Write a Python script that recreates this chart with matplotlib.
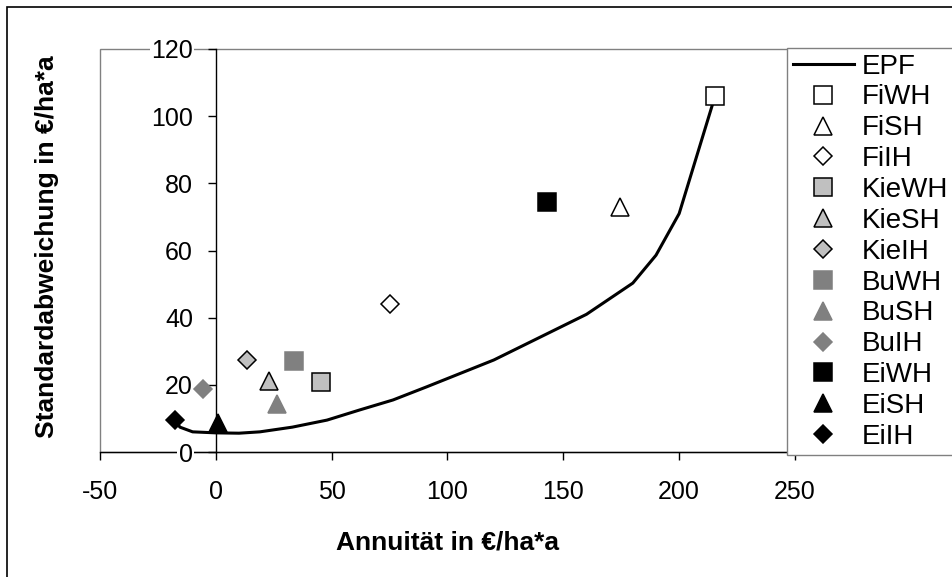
import matplotlib
matplotlib.use('Agg')

import matplotlib.pyplot as plt
from matplotlib.patches import Rectangle

plt.rcParams['font.family'] = ['Liberation Sans', 'DejaVu Sans']
plt.rcParams['axes.unicode_minus'] = False

##########
# EPF (efficient frontier) line
epf_x = [-17.7, -15.5, -10, 0, 10, 19, 33, 48, 62, 76.5, 91, 120, 160, 180, 190, 200, 215.5]
epf_y = [9.5, 7.4, 6.0, 5.7, 5.6, 6.0, 7.4, 9.5, 12.5, 15.5, 19.4, 27.4, 41, 50.3, 58.6, 71, 106]

# single strategies
names = ['FiWH', 'FiSH', 'FiIH', 'KieWH', 'KieSH', 'KieIH',
         'BuWH', 'BuSH', 'BuIH', 'EiWH', 'EiSH', 'EiIH']
annuity = [215.5, 174.5, 75, 45.2, 22.9, 13.4, 33.7, 26.6, -5.7, 143, 1.0, -17.7]
stdev = [106, 73.1, 44, 20.9, 21.1, 27.4, 27.0, 14.3, 18.7, 74.4, 8.5, 9.5]

xticks = [-50, 0, 50, 100, 150, 200, 250]
yticks = [0, 20, 40, 60, 80, 100, 120]

##########
mk = {'s': 13, '^': 13.5, 'D': 9.6}
styles = [
    ('s', 'white', 'black'), ('^', 'white', 'black'), ('D', 'white', 'black'),
    ('s', '#c0c0c0', 'black'), ('^', '#c0c0c0', 'black'), ('D', '#c0c0c0', 'black'),
    ('s', '#808080', '#808080'), ('^', '#808080', '#808080'), ('D', '#808080', '#808080'),
    ('s', 'black', 'black'), ('^', 'black', 'black'), ('D', 'black', 'black'),
]

W, H = 952, 577
fig = plt.figure(figsize=(W / 100, H / 100), dpi=100)
ax = fig.add_axes([100 / W, (H - 452) / H, 695 / W, 403 / H])

ax.plot(epf_x, epf_y, '-', color='black', lw=2.2, label='EPF', zorder=2, clip_on=False)
for i in range(len(names)):
    m, fc, ec = styles[i]
    ax.plot(annuity[i], stdev[i], linestyle='none', marker=m, ms=mk[m],
            markerfacecolor=fc, markeredgecolor=ec, markeredgewidth=1.1,
            label=names[i], zorder=3, clip_on=False)

ax.set_xlim(-50, 250)
ax.set_ylim(0, 120)
ax.set_xticks(xticks)
ax.set_yticks(yticks)

ax.spines['top'].set_visible(False)
ax.spines['right'].set_visible(False)
ax.spines['left'].set_position(('data', 0))
for s in ['left', 'bottom']:
    ax.spines[s].set_linewidth(1.0)
    ax.spines[s].set_zorder(1)
ax.yaxis.set_zorder(1.6)
ax.patch.set_edgecolor('#808080')
ax.patch.set_linewidth(1.0)

ax.tick_params(axis='x', direction='out', length=6, width=1, pad=14, labelsize=18)
ax.tick_params(axis='y', direction='out', length=5.5, width=1, pad=11, labelsize=18)
for lbl in ax.get_yticklabels():
    lbl.set_bbox(dict(facecolor='white', edgecolor='none', pad=1))

fig.text(448 / W, 1 - 550 / H, 'Annuität in €/ha*a', fontsize=19, fontweight='bold',
         ha='center', va='baseline')
fig.text(47 / W, 1 - 247 / H, 'Standardabweichung in €/ha*a', fontsize=19, fontweight='bold',
         rotation=90, ha='center', va='center')

leg = ax.legend(loc='upper left', bbox_to_anchor=(787 / W, 1 - 48 / H),
                bbox_transform=fig.transFigure, fontsize=20, numpoints=1,
                frameon=True, fancybox=False, framealpha=1, edgecolor='#808080',
                borderaxespad=0, borderpad=0.2, labelspacing=0.175,
                handlelength=2.2, handletextpad=0.3)
leg.get_frame().set_linewidth(1.0)
leg.set_zorder(5)

# outer chart frame
fig.patches.append(Rectangle((7 / W, -0.1), 1.2, 1 - 7 / H + 0.1, transform=fig.transFigure,
                             fill=False, edgecolor='black', linewidth=1.2))

fig.savefig('out.png', dpi=100)
